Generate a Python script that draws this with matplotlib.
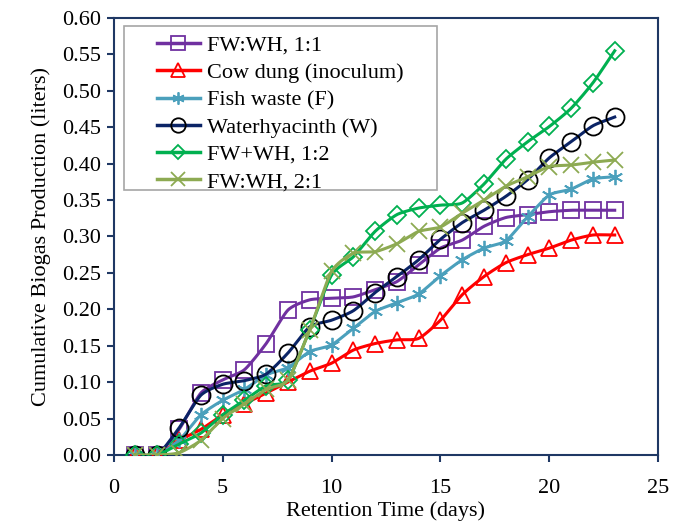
import numpy as np
import matplotlib
matplotlib.use("Agg")
import matplotlib.pyplot as plt
from matplotlib.lines import Line2D
from matplotlib.patches import Rectangle

days = list(range(1, 24))
fw_wh_1_1 = [0, 0, 0.035, 0.085, 0.103, 0.117, 0.153, 0.199, 0.213, 0.215, 0.217, 0.227,
             0.238, 0.261, 0.284, 0.295, 0.314, 0.326, 0.330, 0.334, 0.336, 0.336, 0.336]
cow_dung = [0, 0, 0.020, 0.035, 0.055, 0.070, 0.085, 0.100, 0.115, 0.126, 0.144, 0.153,
            0.158, 0.160, 0.185, 0.220, 0.245, 0.264, 0.275, 0.284, 0.295, 0.302, 0.302]
fish_waste = [0, 0, 0.020, 0.055, 0.075, 0.090, 0.110, 0.120, 0.142, 0.151, 0.174, 0.197,
              0.209, 0.221, 0.246, 0.268, 0.284, 0.294, 0.327, 0.357, 0.365, 0.379, 0.382]
water_hyacinth = [0, 0, 0.037, 0.082, 0.097, 0.102, 0.111, 0.140, 0.176, 0.185, 0.198, 0.223,
                  0.245, 0.268, 0.296, 0.319, 0.336, 0.355, 0.378, 0.408, 0.430, 0.452, 0.464]
fw_wh_1_2 = [0, 0, 0.015, 0.030, 0.055, 0.075, 0.095, 0.103, 0.172, 0.247, 0.272, 0.307,
             0.330, 0.339, 0.343, 0.346, 0.372, 0.406, 0.430, 0.451, 0.476, 0.511, 0.555]
fw_wh_2_1 = [0, 0, 0.003, 0.020, 0.050, 0.070, 0.090, 0.103, 0.172, 0.252, 0.277, 0.279,
             0.290, 0.307, 0.313, 0.332, 0.350, 0.369, 0.382, 0.396, 0.398, 0.402, 0.405]

labels = ["FW:WH, 1:1", "Cow dung (inoculum)", "Fish waste (F)",
          "Waterhyacinth (W)", "FW+WH, 1:2", "FW:WH, 2:1"]
series = [fw_wh_1_1, cow_dung, fish_waste, water_hyacinth, fw_wh_1_2, fw_wh_2_1]
line_colors = ["#7030A0", "#FF0000", "#4BA0BC", "#0B2466", "#00B050", "#8DAA52"]
marker_colors = ["#7030A0", "#FF0000", "#4BA0BC", "#000000", "#00B050", "#8DAA52"]
markers = ["s", "^", (6, 2, 0), "o", "D", "x"]
msizes = [12, 12, 11, 13, 9, 12]

plt.rcParams['font.family'] = ['Liberation Serif', 'DejaVu Serif']


def smooth(x, y, n=20):
    x = np.asarray(x, float)
    y = np.asarray(y, float)
    px = np.concatenate([[2 * x[0] - x[1]], x, [2 * x[-1] - x[-2]]])
    py = np.concatenate([[2 * y[0] - y[1]], y, [2 * y[-1] - y[-2]]])
    xs, ys = [], []
    t = np.linspace(0, 1, n, endpoint=False)
    for i in range(1, len(px) - 2):
        p0, p1, p2, p3 = py[i - 1], py[i], py[i + 1], py[i + 2]
        q0, q1, q2, q3 = px[i - 1], px[i], px[i + 1], px[i + 2]
        k = 0.5 * 0.66
        m1y, m2y = k * (p2 - p0), k * (p3 - p1)
        m1x, m2x = k * (q2 - q0), k * (q3 - q1)
        h00 = 2 * t**3 - 3 * t**2 + 1
        h10 = t**3 - 2 * t**2 + t
        h01 = -2 * t**3 + 3 * t**2
        h11 = t**3 - t**2
        xs.append(h00 * q1 + h10 * m1x + h01 * q2 + h11 * m2x)
        ys.append(h00 * p1 + h10 * m1y + h01 * p2 + h11 * m2y)
    xs.append([x[-1]])
    ys.append([y[-1]])
    return np.concatenate(xs), np.concatenate(ys)


fig = plt.figure(figsize=(6.85, 5.29), dpi=100)
ax = fig.add_axes([0.166, 0.140, 0.795, 0.826])

handles = []
for i, (vals, lab) in enumerate(zip(series, labels)):
    sx, sy = smooth(days, vals)
    ax.plot(sx, sy, color=line_colors[i], lw=2.2, zorder=2 + i)
    ax.plot(days, vals, linestyle='none', marker=markers[i], markersize=msizes[i],
            markerfacecolor='none', markeredgecolor=marker_colors[i],
            markeredgewidth=1.3, zorder=2 + i)
    handles.append(Line2D([0], [0], color=line_colors[i], lw=2.5, marker=markers[i],
                          markersize=msizes[i] * 0.8, markerfacecolor='none',
                          markeredgecolor=marker_colors[i], markeredgewidth=1.3))

ax.set_xlim(0, 25)
ax.set_ylim(0, 0.60)
ax.set_xticks([0, 5, 10, 15, 20, 25])
ax.set_yticks(np.arange(0, 0.61, 0.05))
ax.yaxis.set_major_formatter(matplotlib.ticker.FormatStrFormatter('%.2f'))
spine_c = "#1F3864"
for s in ax.spines.values():
    s.set_color(spine_c)
    s.set_linewidth(1.5)
ax.tick_params(axis='both', direction='out', length=5, width=1.5, color=spine_c,
               labelsize=16, labelcolor='black')
ax.tick_params(axis='x', pad=12)
ax.tick_params(axis='y', pad=4)
ax.set_xlabel("Retention Time (days)", fontsize=16, labelpad=3)
ax.set_ylabel("Cumulative Biogas Production (liters)", fontsize=16, labelpad=8)

# legend frame
frame = Rectangle((0.018, 0.606), 0.576, 0.376, transform=ax.transAxes,
                  facecolor='white', edgecolor='#A6A6A6', lw=1.2, zorder=19)
ax.add_patch(frame)
leg = ax.legend(handles, labels, loc='upper left', bbox_to_anchor=(0.079, 0.96),
                fontsize=16, frameon=False,
                handlelength=1.95, handletextpad=0.3, labelspacing=0.3,
                borderpad=0, borderaxespad=0, numpoints=1)
leg.set_zorder(20)

fig.savefig("out.png", dpi=100)
